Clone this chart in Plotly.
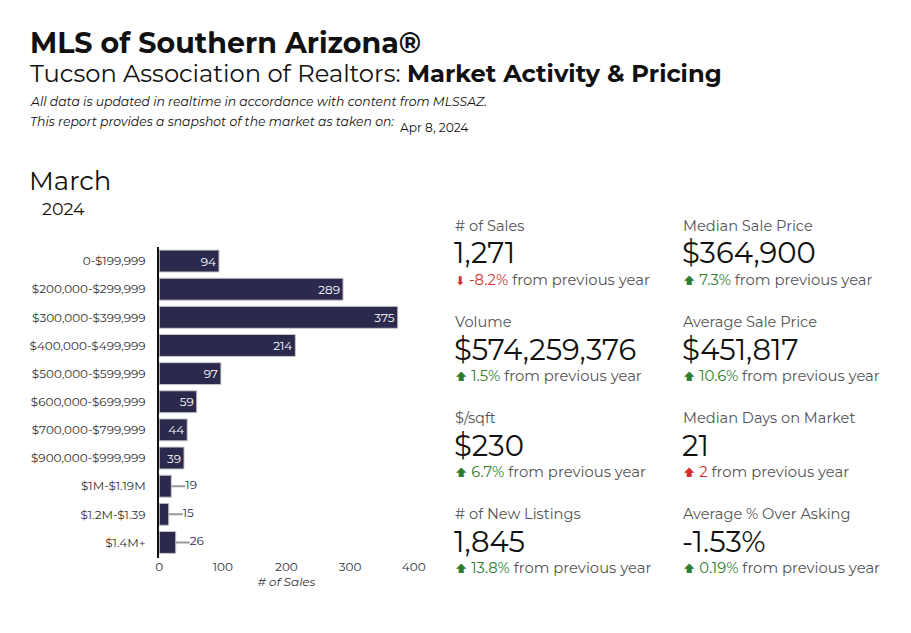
import plotly.graph_objects as go

categories = ["0-$199,999", "$200,000-$299,999", "$300,000-$399,999", "$400,000-$499,999",
              "$500,000-$599,999", "$600,000-$699,999", "$700,000-$799,999", "$900,000-$999,999",
              "$1M-$1.19M", "$1.2M-$1.39", "$1.4M+"]
sales = [94, 289, 375, 214, 97, 59, 44, 39, 19, 15, 26]
x_ticks = [0, 100, 200, 300, 400]

stat_labels = ["# of Sales", "Median Sale Price", "Volume", "Average Sale Price",
               "$/sqft", "Median Days on Market", "# of New Listings", "Average % Over Asking"]
stat_values = ["1,271", "$364,900", "$574,259,376", "$451,817", "$230", "21", "1,845", "-1.53%"]
stat_changes = ["-8.2%", "7.3%", "1.5%", "10.6%", "6.7%", "2", "13.8%", "0.19%"]
stat_dirs = ["down", "up", "up", "up", "up", "up", "up", "up"]
stat_good = [False, True, True, True, True, False, True, True]

FONT = "Montserrat, Inter, 'Noto Sans', 'DejaVu Sans', sans-serif"
BAR = "#2b2a4c"
W, H = 911, 633

SMALL = 30
inside_text = [str(v) if v >= SMALL else "" for v in sales]

fig = go.Figure()
fig.add_trace(go.Bar(
    y=categories, x=sales, orientation="h",
    marker=dict(color=BAR, line=dict(color="#c8c8cc", width=1)),
    text=inside_text, textposition="inside", insidetextanchor="end",
    textfont=dict(color="white", size=12, family=FONT),
    cliponaxis=False, hoverinfo="skip",
))

# leader lines + labels for small bars
LEAD = 22
for c, v in zip(categories, sales):
    if v < SMALL:
        fig.add_trace(go.Scatter(
            x=[v, v + LEAD], y=[c, c], mode="lines",
            line=dict(color="#999999", width=2),
            cliponaxis=False, hoverinfo="skip", showlegend=False,
        ))
        fig.add_trace(go.Scatter(
            x=[v + LEAD], y=[c], mode="text", text=[str(v)], textposition="middle right",
            textfont=dict(color=BAR, size=12, family=FONT),
            cliponaxis=False, hoverinfo="skip", showlegend=False,
        ))

def px(x):
    return x / W

def py(y):
    return 1 - y / H

ann = []
def txt(x, y, s, size, color="#111", anchor="left", yanchor="middle"):
    ann.append(dict(x=px(x), y=py(y), xref="paper", yref="paper", text=s, showarrow=False,
                    xanchor=anchor, yanchor=yanchor, borderpad=0,
                    font=dict(size=size, color=color, family=FONT)))

txt(25, 43, "<b>MLS of Southern Arizona®</b>", 28.5)
txt(25, 74, "Tucson Association of Realtors: <b>Market Activity &amp; Pricing</b>", 24.2)
txt(25, 101, "<i>All data is updated in realtime in accordance with content from MLSSAZ.</i>", 12.4)
txt(25, 121, "<i>This report provides a snapshot of the market as taken on:</i>", 12.4)
txt(402, 127, "Apr 8, 2024", 12.2)
txt(24, 181, "March", 26)
txt(38, 208, "2024", 17.5)

col_x = [458, 690]
row_y = [226, 322, 418, 514]
GREEN = "#2e7d32"
RED = "#d32f2f"
for i in range(len(stat_labels)):
    cx = col_x[i % 2]
    ry = row_y[i // 2]
    txt(cx, ry, stat_labels[i], 14.6, "#555555")
    txt(cx - 1, ry + 27, stat_values[i], 29, "#111111")
    color = GREEN if stat_good[i] else RED
    arrow = "⬆" if stat_dirs[i] == "up" else "⬇"
    txt(cx, ry + 54,
        f"<span style='font-size:12px'>{arrow}</span> <span style='color:{color}'>{stat_changes[i]}</span>"
        f"<span style='color:#555555'> from previous year</span>", 14.8, color)

fig.update_layout(
    width=W, height=H, margin=dict(l=0, r=0, t=0, b=0),
    paper_bgcolor="white", plot_bgcolor="white",
    showlegend=False, bargap=0.22,
    font=dict(family=FONT, color="#333333"),
    annotations=ann,
    xaxis=dict(domain=[158 / W, 417 / W], range=[0, 400], tickvals=x_ticks,
               showgrid=False, zeroline=False, showline=False, ticks="",
               tickfont=dict(size=12, color="#333333", family=FONT),
               title=dict(text="<i># of Sales</i>", font=dict(size=12, color="#333333", family=FONT),
                          standoff=2)),
    yaxis=dict(domain=[py(558), py(247)], autorange="reversed", showgrid=False,
               showline=True, linecolor="#111111", linewidth=1.5, ticks="",
               ticksuffix="   ", tickfont=dict(size=12, color="#333333", family=FONT)),
)
fig.write_html("out.html")
